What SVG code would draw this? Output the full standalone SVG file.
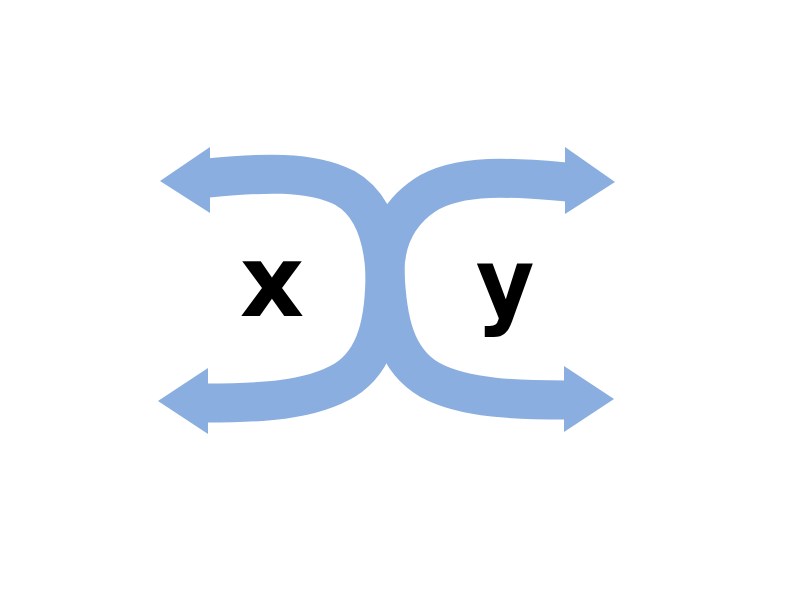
<svg xmlns="http://www.w3.org/2000/svg" width="800" height="600" viewBox="0 0 800 600">
<style>
.shaft{fill:none;stroke:#8AAEDF;stroke-width:39;stroke-linecap:butt}
.head{fill:#8AAEDF}
.lbl{font-family:"DejaVu Sans",sans-serif;font-weight:bold;font-size:100px;fill:#000;text-anchor:middle}
</style>
<rect width="800" height="600" fill="#fff"/>
<g id="connectors">
<g id="left-arrow">
<path class="shaft" d="M208,178 C260,173 310,170 345,188 C375,205 383,240 385,272 C385,320 377,360 345,380 C310,401 260,403 206,403"/>
<polygon class="head" points="210,147 160,181 210,213"/>
<polygon class="head" points="208,368 158,401 208,434"/>
</g>
<g id="right-arrow">
<path class="shaft" d="M567,182 C520,178 460,172 425,195 C395,215 385,245 385,272 C387,320 395,360 430,380 C465,399 520,400 566,400"/>
<polygon class="head" points="565,147 615,182 565,214"/>
<polygon class="head" points="564,366 614,399 564,432"/>
</g>
</g>
<g id="node-x"><text class="lbl" x="272" y="316">x</text></g>
<g id="node-y"><text class="lbl" transform="translate(505,316) scale(0.9,0.97)" x="0" y="0">y</text></g>
</svg>
